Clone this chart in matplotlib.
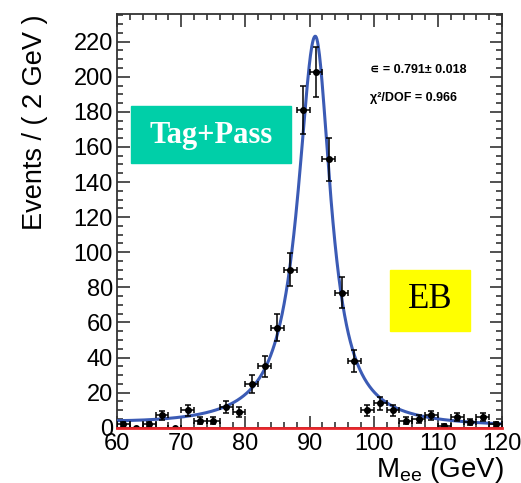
# Z -> ee tag-and-probe mass fit, barrel, passing probes
import numpy as np
import matplotlib
matplotlib.use('Agg')
import matplotlib.pyplot as plt
from matplotlib.patches import Rectangle

plt.rcParams['font.family'] = ['Liberation Sans', 'DejaVu Sans']
plt.rcParams['mathtext.fontset'] = 'custom'
plt.rcParams['mathtext.rm'] = 'Liberation Sans'
plt.rcParams['mathtext.default'] = 'regular'

# 2 GeV bins from 60 to 120
bin_centers = np.arange(61, 120, 2)
counts = [2, 0, 2, 7, 0, 10, 4, 4, 12, 9,
          25, 35, 57, 90, 181, 203, 153, 77, 38, 10,
          14, 10, 4, 5, 7, 1, 6, 3, 6, 2]

# fitted signal + background shape
peak_height = 223.0
peak_mass = 90.9
width_low = 3.3
width_high = 2.9
bkg_norm = 1.5
bkg_slope = 12.0

eff_text = '∊ = 0.791± 0.018'
chi2_text = 'χ²/DOF = 0.966'


def fit_model(x):
    g = np.where(x < peak_mass, width_low, width_high)
    sig = peak_height / (1 + ((x - peak_mass) / g) ** 2)
    return sig + bkg_norm * np.exp(-(x - 60) / bkg_slope)


W, H = 521, 483
fig = plt.figure(figsize=(W / 100, H / 100), dpi=100)
ax = fig.add_axes([117 / W, 1 - 427.7 / H, 385 / W, 413.4 / H])

counts = np.array(counts, dtype=float)
yerr = np.sqrt(counts)
ax.errorbar(bin_centers, counts, xerr=1, yerr=yerr, fmt='o', color='black',
            markersize=4, elinewidth=1.1, capsize=2.2, capthick=1.1, zorder=4)

xs = np.linspace(60, 120, 600)
ax.plot(xs, fit_model(xs), color='#3b5bb5', lw=2.2, zorder=3)
ax.axhline(0, color='#e8262b', lw=2, zorder=5, clip_on=False)

ax.set_xlim(60, 120)
ax.set_ylim(0, 235.6)
ax.set_xticks(np.arange(60, 121, 10))
ax.set_xticks(np.arange(60, 121, 2), minor=True)
ax.set_yticks(np.arange(0, 221, 20))
ax.set_yticks(np.arange(0, 236, 5), minor=True)

ax.tick_params(which='both', direction='in', top=True, right=True,
               labelsize=17, width=1.2, color='#333333')
ax.tick_params(which='major', length=9)
ax.tick_params(which='minor', length=4.5)
ax.tick_params(axis='x', pad=4)
ax.tick_params(axis='y', pad=3)
for s in ax.spines.values():
    s.set_linewidth(1.3)
    s.set_color('#333333')

ax.text(99.5, 204, eff_text, fontsize=9, fontweight='bold', va='center')
ax.text(99.5, 188, chi2_text, fontsize=9, fontweight='bold', va='center')

fig.text(35 / W, 1 - 14 / H, 'Events / ( 2 GeV )', rotation=90,
         ha='center', va='top', fontsize=19.5)
fig.text(504 / W, 1 - 476.7 / H, r'M$_{ee}$ (GeV)', ha='right',
         va='baseline', fontsize=20)

# label boxes
fig.patches.append(Rectangle((131 / W, 1 - 163 / H), 160 / W, 57 / H,
                             transform=fig.transFigure, color='#00cfa8', zorder=6))
fig.text(211 / W, 1 - 135 / H, 'Tag+Pass', ha='center', va='center',
         color='white', fontsize=22, fontweight='bold',
         family='Liberation Serif', zorder=7)
fig.patches.append(Rectangle((390 / W, 1 - 331 / H), 80 / W, 61 / H,
                             transform=fig.transFigure, color='#ffff00', zorder=6))
fig.text(430 / W, 1 - 300 / H, 'EB', ha='center', va='center',
         color='black', fontsize=25, family='Liberation Serif', zorder=7)

fig.savefig('out.png', dpi=100)
